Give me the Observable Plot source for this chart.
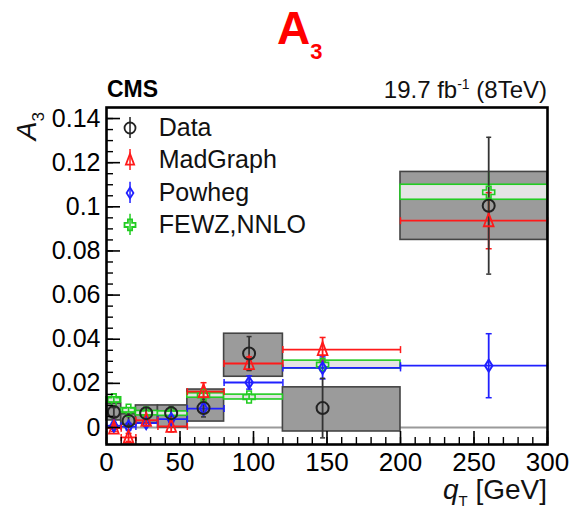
<!DOCTYPE html>
<html><head><meta charset="utf-8">
<script src="https://cdn.jsdelivr.net/npm/d3@7"></script>
<script src="https://cdn.jsdelivr.net/npm/@observablehq/plot@0.6"></script>
<style>body{margin:0;background:#fff} svg{display:block}</style>
</head><body><div id="chart"></div>
<script>
// ---- data ----
const binLo  = [0, 10, 20, 35, 55, 80, 120, 200];
const binHi  = [10, 20, 35, 55, 80, 120, 200, 300];
const qtMean = [5, 15, 27, 44, 66, 97, 147, 260];

const dataVal   = [0.0070, 0.0030, 0.0065, 0.0065, 0.0088, 0.0335, 0.0088, 0.1005];
const dataStat  = [0.0020, 0.0020, 0.0025, 0.0030, 0.0040, 0.0077, 0.0135, 0.0310];
const dataSysLo = [0.0032, 0.0012, 0.0020, 0.0000, 0.0027, 0.0230, -0.0018, 0.0850];
const dataSysHi = [0.0108, 0.0060, 0.0100, 0.0100, 0.0172, 0.0425, 0.0182, 0.1158];

const mgVal = [-0.0003, -0.0045, 0.0033, 0.0005, 0.0163, 0.0290, 0.0353, 0.0937];
const mgErr = [0.0015, 0.0018, 0.0015, 0.0025, 0.0040, 0.0030, 0.0055, 0.0127];

const powVal = [0.0008, 0.0004, 0.0020, 0.0038, 0.0086, 0.0204, 0.0270, 0.0280];
const powErr = [0.0015, 0.0015, 0.0015, 0.0015, 0.0020, 0.0030, 0.0050, 0.0145];

const fewzVal  = [0.0125, 0.0078, 0.0065, 0.0063, 0.0145, 0.0138, 0.0285, 0.1066];
const fewzHalf = [0.0012, 0.0010, 0.0010, 0.0010, 0.0010, 0.0011, 0.0018, 0.0034];
const fewzErr  = [0.0015, 0.0012, 0.0012, 0.0012, 0.0015, 0.0015, 0.0020, 0.0090];

const yTicks = [0, 0.02, 0.04, 0.06, 0.08, 0.1, 0.12, 0.14];
const yTickLabels = ["0", "0.02", "0.04", "0.06", "0.08", "0.1", "0.12", "0.14"];
const yMinor = d3.range(0, 29).map(i => +(i * 0.005).toFixed(3));
const xTicks = [0, 50, 100, 150, 200, 250, 300];
const xTickLabels = ["0", "50", "100", "150", "200", "250", "300"];
const xMinor = d3.range(0, 31).map(i => i * 10);

const legendNames = ["Data", "MadGraph", "Powheg", "FEWZ,NNLO"];
const legendValues = [0.1357, 0.1212, 0.1063, 0.0918];

// ---- build rows ----
const rows = binLo.map((lo, i) => ({
  lo, hi: binHi[i], x: qtMean[i],
  d: dataVal[i], dLo: dataVal[i] - dataStat[i], dHi: dataVal[i] + dataStat[i],
  sLo: dataSysLo[i], sHi: dataSysHi[i],
  mg: mgVal[i], mgLo: mgVal[i] - mgErr[i], mgHi: mgVal[i] + mgErr[i],
  pw: powVal[i], pwLo: powVal[i] - powErr[i], pwHi: powVal[i] + powErr[i],
  fw: fewzVal[i], fwLo: fewzVal[i] - fewzHalf[i], fwHi: fewzVal[i] + fewzHalf[i],
  feLo: fewzVal[i] - fewzErr[i], feHi: fewzVal[i] + fewzErr[i]
}));

const RED = "#ff1a1a", BLUE = "#2020ff", GREEN = "#22cc22", DARK = "#333333";

// ---- custom symbols ----
const rad = s => Math.sqrt(s / Math.PI);
const vCap = {draw(c, s) { const r = rad(s); c.moveTo(0, -r); c.lineTo(0, r); }};
const hCap = {draw(c, s) { const r = rad(s); c.moveTo(-r, 0); c.lineTo(r, 0); }};
const tri = {draw(c, s) { const r = rad(s); c.moveTo(0, -r * 1.15); c.lineTo(r * 0.75, r * 0.85); c.lineTo(-r * 0.75, r * 0.85); c.closePath(); }};
const diam = {draw(c, s) { const r = rad(s); c.moveTo(0, -r); c.lineTo(r * 0.62, 0); c.lineTo(0, r); c.lineTo(-r * 0.62, 0); c.closePath(); }};
const cross = {draw(c, s) { const r = rad(s), a = r * 0.38;
  const p = [[-a,-r],[a,-r],[a,-a],[r,-a],[r,a],[a,a],[a,r],[-a,r],[-a,a],[-r,a],[-r,-a],[-a,-a]];
  c.moveTo(p[0][0], p[0][1]); for (const q of p.slice(1)) c.lineTo(q[0], q[1]); c.closePath(); }};

// helper: horizontal line with end caps + vertical error bar with caps
function series(key, eLo, eHi, color) {
  return [
    Plot.ruleY(rows, {y: key, x1: "lo", x2: "hi", stroke: color, strokeWidth: 1.8}),
    Plot.dot(rows, {x: "lo", y: key, symbol: vCap, r: 3.5, stroke: color, strokeWidth: 1.5}),
    Plot.dot(rows, {x: "hi", y: key, symbol: vCap, r: 3.5, stroke: color, strokeWidth: 1.5}),
    Plot.ruleX(rows, {x: "x", y1: eLo, y2: eHi, stroke: color, strokeWidth: 1.8}),
    Plot.dot(rows, {x: "x", y: eLo, symbol: hCap, r: 3, stroke: color, strokeWidth: 1.5}),
    Plot.dot(rows, {x: "x", y: eHi, symbol: hCap, r: 3, stroke: color, strokeWidth: 1.5})
  ];
}

const legendRows = legendNames.map((n, i) => ({name: n, y: legendValues[i]}));
const legendSym = [{symbol: "circle", stroke: "#222"}, {symbol: tri, stroke: RED}, {symbol: diam, stroke: BLUE}, {symbol: cross, stroke: GREEN}];

const plot = Plot.plot({
  width: 571, height: 510,
  marginLeft: 106, marginRight: 24, marginTop: 107, marginBottom: 66,
  style: {fontFamily: "'Liberation Sans', Arial, Helvetica, sans-serif", fontSize: "25px", background: "white", color: "black", overflow: "visible"},
  x: {domain: [0, 300], axis: null},
  y: {domain: [-0.0077, 0.145], axis: null},
  marks: [
    Plot.ruleY([0], {stroke: "#9a9a9a", strokeWidth: 2.2}),
    // data systematic boxes
    Plot.rect(rows, {x1: "lo", x2: "hi", y1: "sLo", y2: "sHi", fill: "#9b9b9b", stroke: "#444", strokeWidth: 1.6}),
    // FEWZ boxes
    Plot.rect(rows, {x1: "lo", x2: "hi", y1: "fwLo", y2: "fwHi", fill: "#e4e4e4", stroke: GREEN, strokeWidth: 1.6}),
    Plot.ruleX(rows, {x: "x", y1: "feLo", y2: "feHi", stroke: GREEN, strokeWidth: 1.6}),
    ...series("pw", "pwLo", "pwHi", BLUE),
    ...series("mg", "mgLo", "mgHi", RED),
    // data stat error bars
    Plot.ruleX(rows, {x: "x", y1: "dLo", y2: "dHi", stroke: DARK, strokeWidth: 1.8}),
    Plot.dot(rows, {x: "x", y: "dLo", symbol: hCap, r: 2.5, stroke: DARK, strokeWidth: 1.5}),
    Plot.dot(rows, {x: "x", y: "dHi", symbol: hCap, r: 2.5, stroke: DARK, strokeWidth: 1.5}),
    // markers
    Plot.dot(rows, {x: "x", y: "fw", symbol: cross, r: 6, stroke: GREEN, strokeWidth: 1.6, fill: "none"}),
    Plot.dot(rows, {x: "x", y: "pw", symbol: diam, r: 6, stroke: BLUE, strokeWidth: 2, fill: "none"}),
    Plot.dot(rows, {x: "x", y: "mg", symbol: tri, r: 6.5, stroke: RED, strokeWidth: 1.8, fill: "none"}),
    Plot.dot(rows, {x: "x", y: "d", symbol: "circle", r: 6, stroke: "#222", strokeWidth: 2, fill: "none"}),
    // legend
    ...legendRows.map((l, i) => Plot.ruleX([l], {x: 16, y1: d => d.y - 0.0048, y2: d => d.y + 0.0048, stroke: legendSym[i].stroke, strokeWidth: 1.5})),
    ...legendRows.map((l, i) => Plot.dot([l], {x: 16, y: "y", symbol: legendSym[i].symbol, r: 5.5, stroke: legendSym[i].stroke, strokeWidth: 1.8, fill: "none"})),
    Plot.text(legendRows, {x: 35.5, y: "y", text: "name", textAnchor: "start", fontSize: 25, fill: "#111"}),
    // frame + axes
    Plot.frame({stroke: "black", strokeWidth: 2.6}),
    Plot.axisY(yTicks, {anchor: "left", tickSize: -14, fill: "none", label: null, strokeWidth: 1.6}),
    Plot.axisY(yMinor, {anchor: "left", tickSize: -7, fill: "none", label: null, strokeWidth: 1.4}),
    Plot.axisY(yTicks, {anchor: "left", tickSize: 0, tickPadding: 6, stroke: "none", tickFormat: d => yTickLabels[yTicks.indexOf(d)], fontSize: 25, label: null}),
    Plot.axisX(xTicks, {anchor: "bottom", tickSize: -13, fill: "none", label: null, strokeWidth: 1.6}),
    Plot.axisX(xMinor, {anchor: "bottom", tickSize: -7, fill: "none", label: null, strokeWidth: 1.4}),
    Plot.axisX(xTicks, {anchor: "bottom", tickSize: 0, tickPadding: 8, stroke: "none", tickFormat: d => xTickLabels[xTicks.indexOf(d)], fontSize: 26, label: null})
  ]
});
document.getElementById("chart").appendChild(plot);

// ---- text annotations ----
const svg = d3.select(plot);
const xr = plot.scale("x").range, yr = plot.scale("y").range;
const FONT = "'Liberation Sans', Arial, Helvetica, sans-serif";

// title
const t = svg.append("text").attr("x", 277).attr("y", 44).attr("fill", "#ff0000").attr("text-anchor", "start")
  .attr("font-family", FONT).attr("font-weight", "bold");
t.append("tspan").attr("font-size", 46).text("A");
t.append("tspan").attr("font-size", 22).attr("dy", 15).text("3");

// CMS
svg.append("text").attr("x", xr[0] + 1).attr("y", yr[1] - 10).attr("text-anchor", "start").attr("font-family", FONT)
  .attr("font-weight", "bold").attr("font-size", 23).text("CMS");

// luminosity
const lumi = svg.append("text").attr("x", xr[1]).attr("y", yr[1] - 9).attr("text-anchor", "end")
  .attr("font-family", FONT).attr("font-size", 24).attr("fill", "#111");
lumi.append("tspan").text("19.7 fb");
lumi.append("tspan").attr("font-size", 14).attr("dy", -9).text("-1");
lumi.append("tspan").attr("dy", 9).text(" (8TeV)");

// x axis label
const xl = svg.append("text").attr("x", xr[1]).attr("y", 499).attr("text-anchor", "end")
  .attr("font-family", FONT).attr("font-size", 28).attr("fill", "#111");
xl.append("tspan").attr("font-style", "italic").text("q");
xl.append("tspan").attr("font-size", 15).attr("dy", 7).text("T");
xl.append("tspan").attr("dy", -7).text(" [GeV]");

// y axis label
const yl = svg.append("text").attr("transform", `translate(36,${yr[1] + 5}) rotate(-90)`)
  .attr("text-anchor", "end").attr("font-family", FONT).attr("font-size", 28).attr("fill", "#111");
yl.append("tspan").attr("font-style", "italic").text("A");
yl.append("tspan").attr("font-size", 17).attr("dy", 8).text("3");
</script>
</body></html>
